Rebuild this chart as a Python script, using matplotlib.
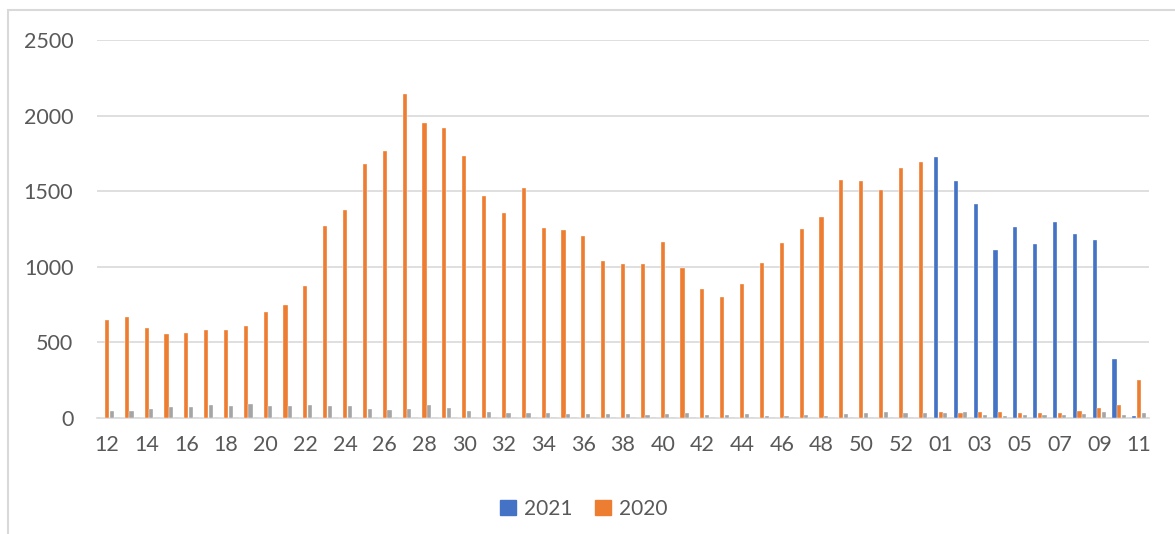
import numpy as np
import matplotlib as mpl
mpl.use('agg')
import matplotlib.pyplot as plt
from matplotlib.patches import Patch, Rectangle

# week numbers: 2020 weeks 12-53, then 2021 weeks 01-11
weeks = [str(w) for w in range(12, 54)] + ['%02d' % w for w in range(1, 12)]

s2021 = [0] * 42 + [1725, 1566, 1414, 1110, 1262, 1150, 1296, 1216, 1177, 390, 12]

s2020 = [650, 665, 595, 555, 562, 582, 582, 608, 700, 747, 873, 1269, 1375, 1679,
         1765, 2142, 1950, 1917, 1732, 1467, 1355, 1520, 1256, 1243, 1203, 1038,
         1018, 1018, 1163, 992, 853, 800, 886, 1025, 1157, 1249, 1329, 1573, 1566,
         1507, 1653, 1692,
         38, 30, 37, 38, 33, 30, 33, 48, 68, 84, 251]

s_other = [48, 48, 57, 73, 73, 86, 81, 95, 77, 77, 86, 81, 77, 62, 50, 59, 86, 68,
           44, 39, 35, 35, 31, 26, 24, 24, 26, 20, 24, 31, 20, 20, 24, 11, 13, 20,
           15, 24, 31, 37, 35, 31,
           35, 37, 17, 15, 17, 22, 22, 24, 39, 22, 35]

blue = '#4472c4'
orange = '#ed7d31'
gray = '#a5a5a5'
txt = '#595959'
grid = '#d9d9d9'

plt.rcParams['font.family'] = ['Lato', 'DejaVu Sans']

fig = plt.figure(figsize=(11.75, 5.34), dpi=100)
ax = fig.add_axes([97 / 1175, 1 - 418 / 534, (1149 - 97) / 1175, 378 / 534])

x = np.arange(len(weeks))
w = 0.21
off = 0.235
ax.bar(x - off, s2021, w, color=blue, edgecolor='white', linewidth=0.25, zorder=3)
ax.bar(x, s2020, w, color=orange, edgecolor='white', linewidth=0.25, zorder=3)
ax.bar(x + off, s_other, w, color=gray, edgecolor='white', linewidth=0.25, zorder=3)

ax.set_xlim(-0.5, len(weeks) - 0.5)
ax.set_ylim(0, 2500)
ax.set_yticks(range(0, 2501, 500))
ax.set_xticks(x[::2])
ax.set_xticklabels(weeks[::2])
ax.yaxis.grid(True, color=grid, linewidth=1.2, zorder=0)
ax.set_axisbelow(True)
for sp in ['top', 'right', 'left']:
    ax.spines[sp].set_visible(False)
ax.spines['bottom'].set_color(grid)
ax.spines['bottom'].set_linewidth(1.2)
ax.tick_params(axis='both', length=0, labelsize=15.5, labelcolor=txt)
ax.tick_params(axis='y', pad=17)
ax.tick_params(axis='x', pad=12)

# chart area border
fig.patches.append(Rectangle((8 / 1175, -0.1), 1.2, 1.1 - 10 / 534,
                             transform=fig.transFigure, fill=False,
                             edgecolor=grid, linewidth=1.5))

handles = [Patch(color=blue, label='2021'), Patch(color=orange, label='2020')]
fig.legend(handles=handles, loc='center', bbox_to_anchor=(0.497, 1 - 509 / 534),
           ncol=2, frameon=False, fontsize=15, labelcolor=txt,
           handlelength=0.75, handleheight=0.75, handletextpad=0.4,
           columnspacing=1.1)

fig.savefig('out.png', dpi=100)
